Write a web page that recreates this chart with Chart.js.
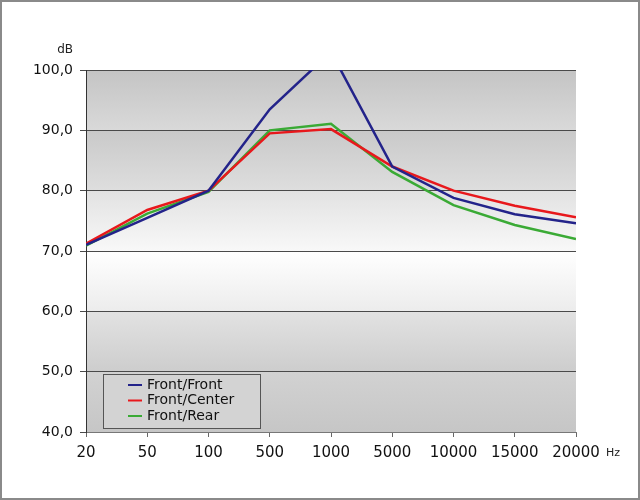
<!DOCTYPE html>
<html>
<head>
<meta charset="utf-8">
<script src="https://cdn.jsdelivr.net/npm/chart.js@4"></script>
<style>
  body { margin: 0; background: #fff; }
  #wrap { width: 640px; height: 500px; }
</style>
</head>
<body>
<div id="wrap"><canvas id="myChart" width="640" height="500"></canvas></div>
<script>
// frequencies (Hz) on the category axis
const freqs = ['20', '50', '100', '500', '1000', '5000', '10000', '15000', '20000'];
// dB values
const frontFront = [71.0, 75.5, 80.0, 93.5, 103.0, 84.0, 78.8, 76.1, 74.6];
const frontCenter = [71.2, 76.8, 80.0, 89.5, 90.2, 84.0, 80.0, 77.5, 75.6];
const frontRear = [70.9, 76.2, 79.8, 90.0, 91.1, 83.1, 77.6, 74.3, 72.0];
const seriesNames = ['Front/Front', 'Front/Center', 'Front/Rear'];
const seriesColors = ['#23238a', '#e8181c', '#3aaa35'];

const fontFam = '"DejaVu Sans", "Liberation Sans", sans-serif';

// band shading: [top colour, bottom colour] from 100 down to 40
const bands = [
    ['#c4c4c4', '#d9d9d9'],
    ['#c9c9c9', '#dedede'],
    ['#e2e2e2', '#f8f8f8'],
    ['#ffffff', '#ececec'],
    ['#e2e2e2', '#cdcdcd'],
    ['#d2d2d2', '#c6c6c6']
];

const decor = {
    id: 'decor',
    beforeDraw(chart) {
        const c = chart.ctx;
        const area = chart.chartArea;
        const y = chart.scales.y;
        c.save();
        for (let i = 0; i < bands.length; i++) {
            const top = y.getPixelForValue(100 - i * 10);
            const bot = y.getPixelForValue(90 - i * 10);
            const g = c.createLinearGradient(0, top, 0, bot);
            g.addColorStop(0, bands[i][0]);
            g.addColorStop(1, bands[i][1]);
            c.fillStyle = g;
            c.fillRect(area.left, top, area.right - area.left, bot - top);
        }
        c.restore();
    },
    afterDraw(chart) {
        const c = chart.ctx;
        c.save();
        // unit labels
        c.fillStyle = '#222';
        c.font = '12px ' + fontFam;
        c.textAlign = 'right';
        c.textBaseline = 'middle';
        c.fillText('dB', 73, 50);
        c.font = '11px ' + fontFam;
        c.textAlign = 'left';
        c.fillText('Hz', 606, 453);

        // legend box
        const lx = 103, ly = 374, lw = 157, lh = 54;
        c.fillStyle = '#d3d3d3';
        c.fillRect(lx, ly, lw, lh);
        c.strokeStyle = '#555';
        c.lineWidth = 1;
        c.strokeRect(lx + 0.5, ly + 0.5, lw, lh);
        c.font = '14px ' + fontFam;
        c.textAlign = 'left';
        c.textBaseline = 'middle';
        chart.data.datasets.forEach((ds, i) => {
            const yy = ly + 11 + i * 15.5;
            c.strokeStyle = ds.borderColor;
            c.lineWidth = 2;
            c.beginPath();
            c.moveTo(128, yy);
            c.lineTo(142, yy);
            c.stroke();
            c.fillStyle = '#111';
            c.fillText(ds.label, 147, yy);
        });

        // outer frame
        c.strokeStyle = '#8a8a8a';
        c.lineWidth = 2;
        c.strokeRect(1, 1, 638, 498);
        c.restore();
    }
};

let ctx = document.getElementById('myChart').getContext('2d');
let myChart = new Chart(ctx, {
    type: 'line',
    data: {
        labels: freqs,
        datasets: [frontFront, frontCenter, frontRear].map((vals, i) => ({
            label: seriesNames[i],
            data: vals,
            borderColor: seriesColors[i],
            backgroundColor: seriesColors[i],
            borderWidth: 2.5,
            pointRadius: 0,
            tension: 0,
            clip: 0
        }))
    },
    options: {
        responsive: false,
        animation: false,
        layout: { padding: { left: 0, top: 70, right: 64, bottom: 0 } },
        plugins: {
            legend: { display: false },
            tooltip: { enabled: false }
        },
        scales: {
            x: {
                offset: false,
                afterFit: scale => { scale.height = 68; },
                grid: {
                    drawOnChartArea: false,
                    drawTicks: true,
                    tickLength: 5,
                    tickColor: '#666'
                },
                border: { color: '#777', width: 1 },
                ticks: {
                    color: '#111',
                    font: { family: fontFam, size: 15 },
                    padding: 7,
                    maxRotation: 0,
                    autoSkip: false
                }
            },
            y: {
                min: 40,
                max: 100,
                afterFit: scale => { scale.width = 86; },
                grid: {
                    color: '#4a4a4a',
                    lineWidth: 1,
                    tickLength: 6,
                    tickColor: '#4a4a4a'
                },
                border: { color: '#333', width: 1 },
                ticks: {
                    stepSize: 10,
                    color: '#111',
                    font: { family: fontFam, size: 14 },
                    padding: 7,
                    callback: v => v.toFixed(1).replace('.', ',')
                }
            }
        }
    },
    plugins: [decor]
});
</script>
</body>
</html>
